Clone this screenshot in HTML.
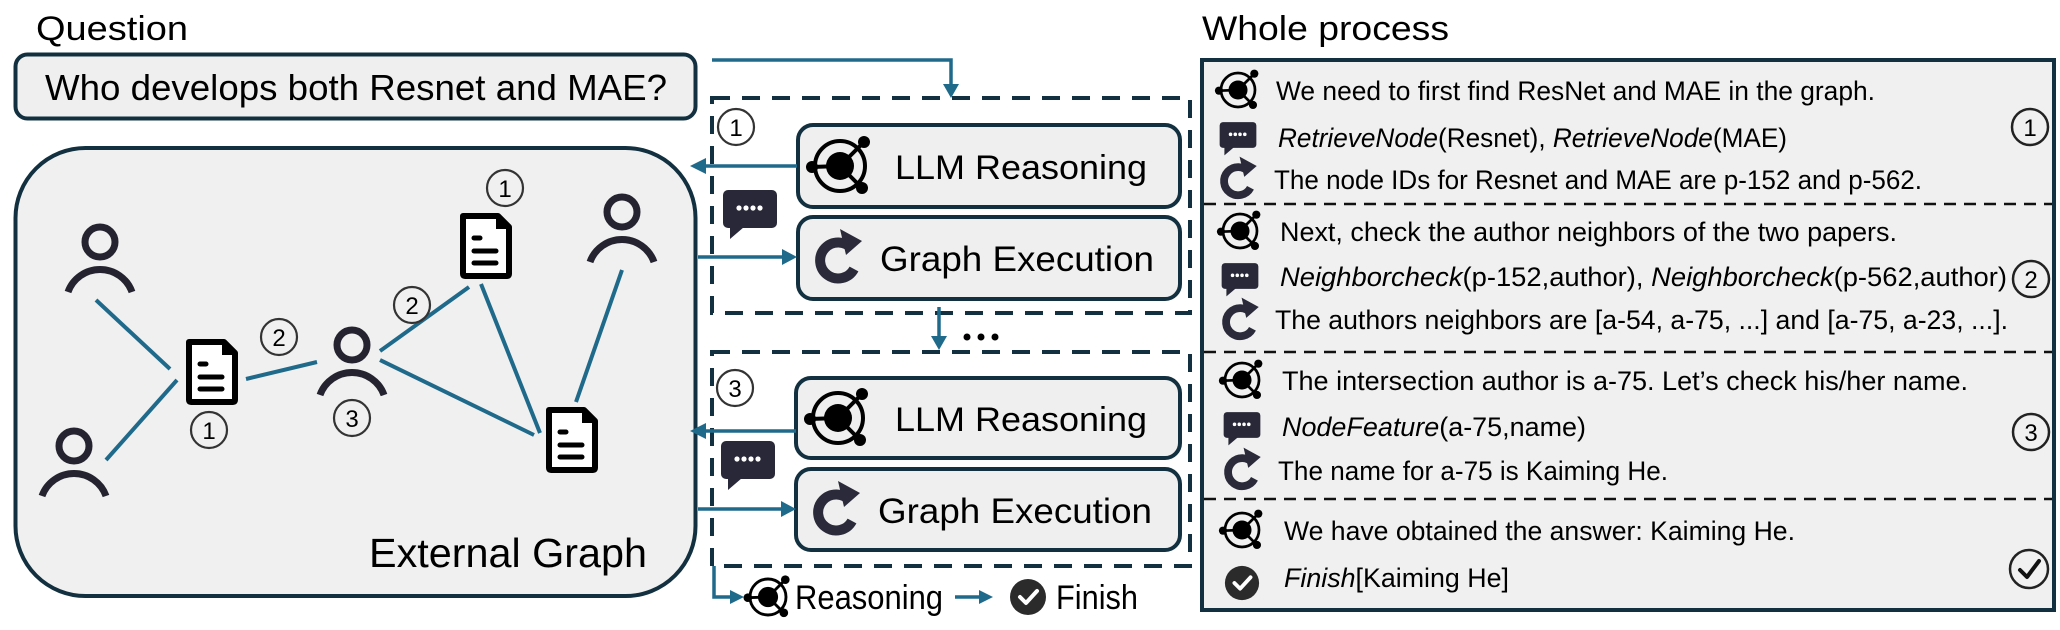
<!DOCTYPE html>
<html><head><meta charset="utf-8"><style>
html,body{margin:0;padding:0;background:#fff;width:2060px;height:630px;overflow:hidden}
svg{display:block}
text{font-family:"Liberation Sans",sans-serif;fill:#000}
</style></head><body>
<svg width="2060" height="630" viewBox="0 0 2060 630" xmlns="http://www.w3.org/2000/svg">
<defs>
<g id="llm">
 <circle r="25" fill="none" stroke="#000" stroke-width="4"/>
 <line x1="-28" y1="1" x2="0" y2="0" stroke="#000" stroke-width="4"/>
 <line x1="24" y1="-24" x2="0" y2="0" stroke="#000" stroke-width="4"/>
 <line x1="22" y1="22" x2="0" y2="0" stroke="#000" stroke-width="4"/>
 <circle r="14" fill="#000"/>
 <circle cx="-28" cy="1" r="6" fill="#000"/>
 <circle cx="24" cy="-24" r="6" fill="#000"/>
 <circle cx="22" cy="22" r="6" fill="#000"/>
</g>
<g id="ref">
 <path d="M 14 -10 A 18 18 0 1 0 16 10" fill="none" stroke="#2a2a3a" stroke-width="10"/>
 <polygon points="2,-30 24,-18 8,-4" fill="#2a2a3a"/>
</g>
<g id="chat">
 <rect x="-27" y="-19" width="54" height="38" rx="5" fill="#282838"/>
 <polygon points="-20,18 -6,18 -20,30" fill="#282838"/>
 <circle cx="-11" cy="-1" r="2.6" fill="#fff"/><circle cx="-4" cy="-1" r="2.6" fill="#fff"/>
 <circle cx="3" cy="-1" r="2.6" fill="#fff"/><circle cx="10" cy="-1" r="2.6" fill="#fff"/>
</g>
<g id="person">
 <circle cx="0" cy="0" r="15" fill="none" stroke="#25232f" stroke-width="7"/>
 <path d="M -32 50 A 34 34 0 0 1 32 50" fill="none" stroke="#25232f" stroke-width="7"/>
</g>
<g id="doc">
 <path d="M -23 -30 L 12 -30 L 23 -19 L 23 28 Q 23 30 21 30 L -21 30 Q -23 30 -23 28 Z" fill="#fff" stroke="#000" stroke-width="6" stroke-linejoin="round"/>
 <polygon points="10,-30 23,-17 10,-17" fill="#000"/>
 <line x1="-12" y1="-8" x2="-6" y2="-8" stroke="#000" stroke-width="5" stroke-linecap="round"/>
 <line x1="-12" y1="5" x2="10" y2="5" stroke="#000" stroke-width="5" stroke-linecap="round"/>
 <line x1="-12" y1="17" x2="10" y2="17" stroke="#000" stroke-width="5" stroke-linecap="round"/>
</g>
<g id="check">
 <circle r="18" fill="#2b2b2b"/>
 <path d="M -8 0 L -2 6 L 9 -6" fill="none" stroke="#fff" stroke-width="4" stroke-linecap="round" stroke-linejoin="round"/>
</g>
</defs>

<text x="36" y="40" font-size="34" textLength="152" lengthAdjust="spacingAndGlyphs">Question</text>
<rect x="15.5" y="54.5" width="680" height="64" rx="12" fill="#efefef" stroke="#12303f" stroke-width="4"/>
<text x="45" y="100" font-size="36" textLength="622" lengthAdjust="spacingAndGlyphs">Who develops both Resnet and MAE?</text>

<rect x="15.5" y="148" width="680" height="448" rx="70" fill="#f0f0f0" stroke="#12303f" stroke-width="4"/>
<g stroke="#1f6a8a" stroke-width="4">
 <line x1="96" y1="300" x2="170" y2="369"/>
 <line x1="106" y1="460" x2="177" y2="380"/>
 <line x1="246" y1="379" x2="317" y2="362"/>
 <line x1="380" y1="351" x2="469" y2="287"/>
 <line x1="380" y1="360" x2="534" y2="435"/>
 <line x1="481" y1="284" x2="540" y2="433"/>
 <line x1="622" y1="270" x2="576" y2="402"/>
</g>
<use href="#person" x="100" y="242"/>
<use href="#person" x="74" y="446"/>
<use href="#person" x="352" y="345"/>
<use href="#person" x="622" y="212"/>
<use href="#doc" x="212" y="372"/>
<use href="#doc" x="486" y="246"/>
<use href="#doc" x="572" y="440"/>
<g fill="none" stroke="#333" stroke-width="2.2">
 <circle cx="505" cy="188" r="18"/><circle cx="279" cy="337" r="18"/><circle cx="412" cy="305" r="18"/>
 <circle cx="209" cy="430" r="18"/><circle cx="352" cy="418" r="18"/>
</g>
<g font-size="24" text-anchor="middle" fill="#222">
 <text x="505" y="197">1</text><text x="279" y="346">2</text><text x="412" y="314">2</text>
 <text x="209" y="439">1</text><text x="352" y="427">3</text>
</g>
<text x="369" y="567" font-size="41" textLength="278" lengthAdjust="spacingAndGlyphs">External Graph</text>

<polyline points="712,60 951,60 951,88" fill="none" stroke="#1f6a8a" stroke-width="3.5"/>
<polygon points="943,84 959,84 951,98" fill="#1f6a8a"/>

<rect x="712" y="98" width="478" height="215" fill="none" stroke="#12303f" stroke-width="4" stroke-dasharray="18 12"/>
<rect x="712" y="352" width="478" height="214" fill="none" stroke="#12303f" stroke-width="4" stroke-dasharray="18 12"/>

<g fill="none" stroke="#333" stroke-width="2.2"><circle cx="736" cy="127" r="18"/><circle cx="735" cy="388" r="18"/></g>
<g font-size="24" text-anchor="middle" fill="#222"><text x="736" y="136">1</text><text x="735" y="397">3</text></g>

<rect x="798" y="125" width="382" height="82" rx="15" fill="#efefef" stroke="#12303f" stroke-width="4"/>
<use href="#llm" x="840" y="166"/>
<text x="895" y="179" font-size="34" textLength="252" lengthAdjust="spacingAndGlyphs">LLM Reasoning</text>
<rect x="798" y="217" width="382" height="82" rx="15" fill="#efefef" stroke="#12303f" stroke-width="4"/>
<use href="#ref" x="838" y="259"/>
<text x="880" y="271" font-size="35" textLength="274" lengthAdjust="spacingAndGlyphs">Graph Execution</text>
<use href="#chat" x="750" y="209"/>
<line x1="797" y1="166" x2="704" y2="166" stroke="#1f6a8a" stroke-width="3.5"/>
<polygon points="690,166 706,158 706,174" fill="#1f6a8a"/>
<line x1="698" y1="257" x2="784" y2="257" stroke="#1f6a8a" stroke-width="3.5"/>
<polygon points="797,257 782,249 782,265" fill="#1f6a8a"/>

<line x1="939" y1="307" x2="939" y2="338" stroke="#1f6a8a" stroke-width="3.5"/>
<polygon points="931,336 947,336 939,350" fill="#1f6a8a"/>
<g fill="#000"><circle cx="967" cy="337" r="3.5"/><circle cx="981" cy="337" r="3.5"/><circle cx="995" cy="337" r="3.5"/></g>

<rect x="796" y="378" width="384" height="80" rx="15" fill="#efefef" stroke="#12303f" stroke-width="4"/>
<use href="#llm" x="838" y="418"/>
<text x="895" y="431" font-size="34" textLength="252" lengthAdjust="spacingAndGlyphs">LLM Reasoning</text>
<rect x="796" y="469" width="384" height="81" rx="15" fill="#efefef" stroke="#12303f" stroke-width="4"/>
<use href="#ref" x="836" y="511"/>
<text x="878" y="523" font-size="35" textLength="274" lengthAdjust="spacingAndGlyphs">Graph Execution</text>
<use href="#chat" x="748" y="460"/>
<line x1="796" y1="431" x2="704" y2="431" stroke="#1f6a8a" stroke-width="3.5"/>
<polygon points="690,431 706,423 706,439" fill="#1f6a8a"/>
<line x1="698" y1="509" x2="782" y2="509" stroke="#1f6a8a" stroke-width="3.5"/>
<polygon points="796,509 781,501 781,517" fill="#1f6a8a"/>

<polyline points="714,566 714,597 732,597" fill="none" stroke="#1f6a8a" stroke-width="3.5"/>
<polygon points="744,597 730,590 730,604" fill="#1f6a8a"/>
<use href="#llm" transform="translate(768 597) scale(0.72)"/>
<text x="795" y="609" font-size="34" textLength="148" lengthAdjust="spacingAndGlyphs">Reasoning</text>
<line x1="955" y1="597" x2="980" y2="597" stroke="#1f6a8a" stroke-width="3.5"/>
<polygon points="993,597 979,590 979,604" fill="#1f6a8a"/>
<use href="#check" x="1028" y="597"/>
<text x="1056" y="609" font-size="34" textLength="82" lengthAdjust="spacingAndGlyphs">Finish</text>

<text x="1202" y="40" font-size="34" textLength="247" lengthAdjust="spacingAndGlyphs">Whole process</text>
<rect x="1202" y="60" width="852" height="550" fill="#f0f0f0" stroke="#12303f" stroke-width="4"/>
<g stroke="#111" stroke-width="2.5" stroke-dasharray="12 8">
 <line x1="1204" y1="204" x2="2052" y2="204"/>
 <line x1="1204" y1="352" x2="2052" y2="352"/>
 <line x1="1204" y1="499" x2="2052" y2="499"/>
</g>
<g>
 <use href="#llm" transform="translate(1238 90) scale(0.68)"/>
 <use href="#chat" transform="translate(1238 135) scale(0.68)"/>
 <use href="#ref" transform="translate(1238 180) scale(0.78)"/>
 <use href="#llm" transform="translate(1240 231) scale(0.68)"/>
 <use href="#chat" transform="translate(1240 276) scale(0.68)"/>
 <use href="#ref" transform="translate(1240 321) scale(0.78)"/>
 <use href="#llm" transform="translate(1242 380) scale(0.68)"/>
 <use href="#chat" transform="translate(1242 425) scale(0.68)"/>
 <use href="#ref" transform="translate(1242 471) scale(0.78)"/>
 <use href="#llm" transform="translate(1242 530) scale(0.68)"/>
 <use href="#check" transform="translate(1242 583) scale(0.95)"/>
</g>
<g font-size="27">
 <text x="1276" y="100" textLength="599" lengthAdjust="spacingAndGlyphs">We need to first find ResNet and MAE in the graph.</text>
 <text x="1278" y="147" textLength="509" lengthAdjust="spacingAndGlyphs"><tspan font-style="italic">RetrieveNode</tspan>(Resnet), <tspan font-style="italic">RetrieveNode</tspan>(MAE)</text>
 <text x="1274" y="189" textLength="648" lengthAdjust="spacingAndGlyphs">The node IDs for Resnet and MAE are p-152 and p-562.</text>
 <text x="1280" y="241" textLength="617" lengthAdjust="spacingAndGlyphs">Next, check the author neighbors of the two papers.</text>
 <text x="1280" y="286" textLength="727" lengthAdjust="spacingAndGlyphs"><tspan font-style="italic">Neighborcheck</tspan>(p-152,author), <tspan font-style="italic">Neighborcheck</tspan>(p-562,author)</text>
 <text x="1275" y="329" textLength="733" lengthAdjust="spacingAndGlyphs">The authors neighbors are [a-54, a-75, ...] and [a-75, a-23, ...].</text>
 <text x="1282" y="390" textLength="686" lengthAdjust="spacingAndGlyphs">The intersection author is a-75. Let’s check his/her name.</text>
 <text x="1282" y="436" textLength="304" lengthAdjust="spacingAndGlyphs"><tspan font-style="italic">NodeFeature</tspan>(a-75,name)</text>
 <text x="1278" y="480" textLength="390" lengthAdjust="spacingAndGlyphs">The name for a-75 is Kaiming He.</text>
 <text x="1284" y="540" textLength="511" lengthAdjust="spacingAndGlyphs">We have obtained the answer: Kaiming He.</text>
 <text x="1284" y="587" textLength="225" lengthAdjust="spacingAndGlyphs"><tspan font-style="italic">Finish</tspan>[Kaiming He]</text>
</g>
<g fill="none" stroke="#222" stroke-width="2.5">
 <circle cx="2030" cy="127" r="18"/><circle cx="2031" cy="279" r="18"/><circle cx="2031" cy="432" r="18"/><circle cx="2029" cy="569" r="19"/>
</g>
<g font-size="24" text-anchor="middle" fill="#222"><text x="2030" y="136">1</text><text x="2031" y="288">2</text><text x="2031" y="441">3</text></g>
<path d="M 2020 570 L 2027 577 L 2039 561" fill="none" stroke="#111" stroke-width="4" stroke-linecap="round" stroke-linejoin="round"/>
</svg>
</body></html>
